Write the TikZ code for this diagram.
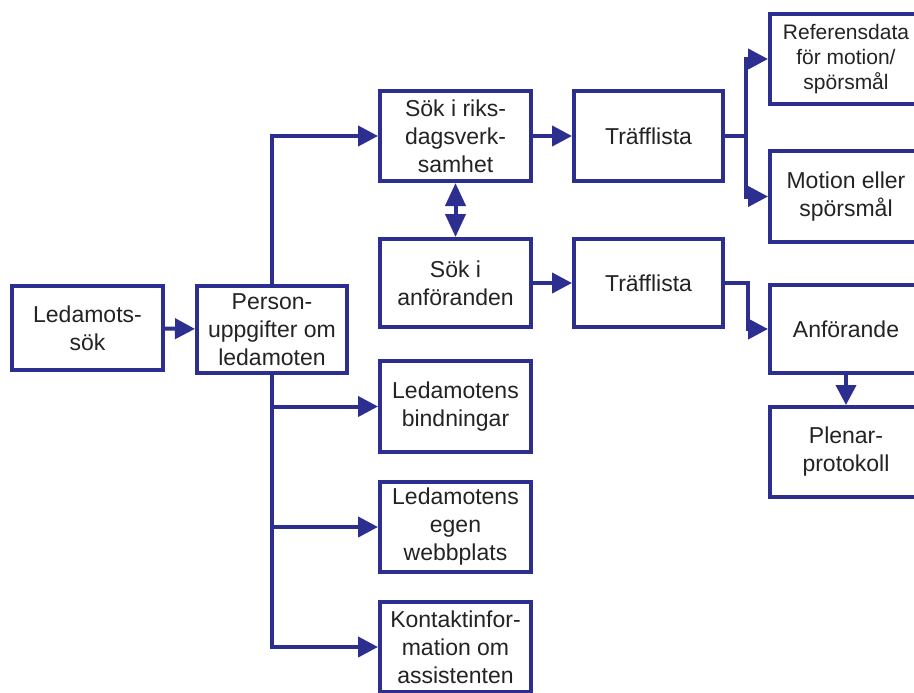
\documentclass[tikz,border=0pt]{standalone}
\usepackage{fontspec}
\setmainfont{Liberation Sans}
\usetikzlibrary{arrows.meta}
\definecolor{navy}{RGB}{44,46,144}
\definecolor{txt}{RGB}{35,35,35}
\begin{document}
\begin{tikzpicture}[x=1pt,y=-1pt,
  box/.style={draw=navy, line width=4pt, minimum width=151pt, minimum height=90pt,
    inner sep=1pt, outer sep=2pt, align=center, text=txt,
    font=\fontsize{23}{28}\selectfont},
  small/.style={font=\fontsize{21}{25}\selectfont},
  tipA/.tip={Triangle[length=20pt,width=20pt]},
  tipB/.tip={Triangle[length=23pt,width=20pt]},
  arr/.style={draw=navy, line width=4pt, -tipA},
  dbl/.style={draw=navy, line width=4pt, tipB-tipB}]
\fill[white] (0,0) rectangle (914,693);
\useasboundingbox (0,0) rectangle (914,693);
\clip (0,0) rectangle (914,693);

\node[box, minimum width=151pt, minimum height=84pt] (led) at (87.5,328) {Ledamots-\\sök};
\node[box, minimum width=150pt, minimum height=87pt] (pers) at (272,329.5) {Person-\\uppgifter om\\ledamoten};
\node[box] (riks) at (455.5,136) {Sök i riks-\\dagsverk-\\samhet};
\node[box, minimum width=149pt] (tr1) at (648.5,136) {Träfflista};
\node[box, minimum width=152pt, small] (ref) at (846,59) {Referensdata\\för motion/\\spörsmål};
\node[box, minimum width=152pt, minimum height=91pt] (mot) at (846,196.5) {Motion eller\\spörsmål};
\node[box, minimum height=88pt] (anf) at (455.5,283) {Sök i\\anföranden};
\node[box, minimum width=149pt, minimum height=88pt] (tr2) at (648.5,283) {Träfflista};
\node[box, minimum width=152pt, minimum height=88pt] (anfb) at (846,329) {Anförande};
\node[box, minimum width=152pt] (plen) at (846,452) {Plenar-\\protokoll};
\node[box, minimum height=91pt] (bind) at (455.5,406.5) {Ledamotens\\bindningar};
\node[box] (webb) at (455.5,527) {Ledamotens\\egen\\webbplats};
\node[box] (kont) at (455.5,647) {Kontaktinfor-\\mation om\\assistenten};

\coordinate (j1) at (746,136);
\coordinate (j2) at (748,283);

\draw[arr] (led) -- (pers);
\draw[arr] (pers.north) |- (riks.west);
\draw[arr] (riks) -- (tr1);
\draw[arr] (tr1.east) -- (j1) |- (ref.west);
\draw[arr] (j1) |- (mot.west);
\draw[dbl] (riks) -- (anf);
\draw[arr] (anf) -- (tr2);
\draw[arr] (tr2.east) -- (j2) |- (anfb.west);
\draw[arr] (anfb) -- (plen);
\draw[arr] (pers.south) |- (bind.west);
\draw[arr] (pers.south) |- (webb.west);
\draw[arr] (pers.south) |- (kont.west);
\end{tikzpicture}
\end{document}
